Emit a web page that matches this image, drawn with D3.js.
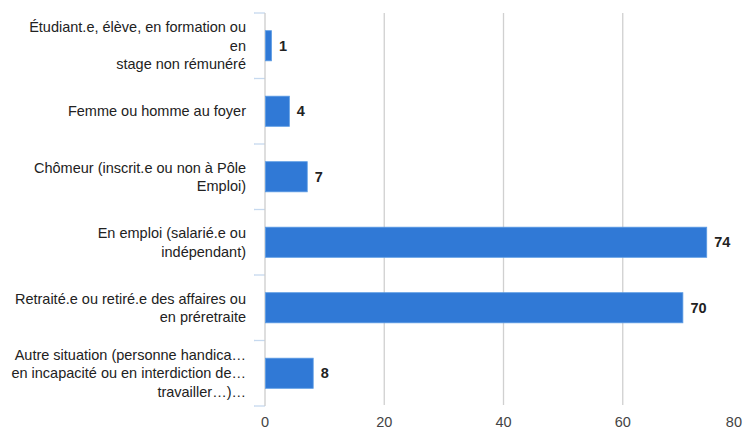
<!DOCTYPE html>
<html><head><meta charset="utf-8">
<script src="https://cdn.jsdelivr.net/npm/d3@7"></script>
<style>
html,body{margin:0;padding:0;background:#fff;}
svg{display:block;font-family:"Liberation Sans",Arial,sans-serif;}
</style></head>
<body><svg id="c" width="743" height="430"></svg>
<script>
const categories = [
  "Étudiant.e, élève, en formation ou en stage non rémunéré",
  "Femme ou homme au foyer",
  "Chômeur (inscrit.e ou non à Pôle Emploi)",
  "En emploi (salarié.e ou indépendant)",
  "Retraité.e ou retiré.e des affaires ou en préretraite",
  "Autre situation (personne handicapée, en incapacité ou en interdiction de travailler...)"
];
const labelLines = [
  ["Étudiant.e, élève, en formation ou", "en", "stage non rémunéré"],
  ["Femme ou homme au foyer"],
  ["Chômeur (inscrit.e ou non à Pôle", "Emploi)"],
  ["En emploi (salarié.e ou", "indépendant)"],
  ["Retraité.e ou retiré.e des affaires ou", "en préretraite"],
  ["Autre situation (personne handica…", "en incapacité ou en interdiction de…", "travailler…)…"]
];
const values = [1, 4, 7, 74, 70, 8];
const xTicks = [0, 20, 40, 60, 80];

const svg = d3.select("#c");
const x = d3.scaleLinear().domain([0, 80]).range([265, 742]);
const y = d3.scaleBand().domain(categories).range([13, 406]).padding(0);
const barH = y.bandwidth() * 0.46;
const fs = 14.5;

// gridlines
svg.append("g").selectAll("line").data(xTicks.filter(d => d > 0 && d < 80)).join("line")
  .attr("x1", d => x(d)).attr("x2", d => x(d))
  .attr("y1", 13).attr("y2", 405)
  .attr("stroke", "#d0d0d0").attr("stroke-width", 1.3);

// category separator ticks
const seps = categories.map(c => y(c)).concat([406]);
svg.append("g").selectAll("line").data(seps).join("line")
  .attr("x1", 254).attr("x2", 265)
  .attr("y1", d => d).attr("y2", d => d)
  .attr("stroke", "#c6d9ef").attr("stroke-width", 1.3);

// baseline
svg.append("line").attr("x1", x(0)).attr("x2", x(0)).attr("y1", 13).attr("y2", 406)
  .attr("stroke", "#cccccc").attr("stroke-width", 1.3);

// bars
svg.append("g").selectAll("rect").data(values).join("rect")
  .attr("x", x(0) + 0.5)
  .attr("y", (d, i) => y(categories[i]) + (y.bandwidth() - barH) / 2)
  .attr("width", d => x(d) - x(0))
  .attr("height", barH)
  .attr("fill", "#3079d6")
  .attr("stroke", "#5b9be3").attr("stroke-width", 0.8);

// value labels
svg.append("g").selectAll("text").data(values).join("text")
  .attr("x", d => x(d) + 8)
  .attr("y", (d, i) => y(categories[i]) + y.bandwidth() / 2)
  .attr("dy", "0.36em")
  .attr("font-size", fs).attr("font-weight", "bold").attr("fill", "#222")
  .text(d => d);

// category labels
const lh = 18.5;
const lg = svg.append("g");
labelLines.forEach((lines, i) => {
  const cy = y(categories[i]) + y.bandwidth() / 2;
  const t = lg.append("text").attr("text-anchor", "end").attr("font-size", fs).attr("fill", "#222");
  lines.forEach((ln, j) => {
    t.append("tspan").attr("x", 246)
      .attr("y", cy + (j - (lines.length - 1) / 2) * lh)
      .attr("dy", "0.36em").text(ln);
  });
});

// x tick labels
svg.append("g").selectAll("text").data(xTicks).join("text")
  .attr("x", d => d === 80 ? 742 : x(d))
  .attr("y", 427)
  .attr("text-anchor", d => d === 80 ? "end" : "middle")
  .attr("font-size", fs).attr("fill", "#444")
  .text(d => d);
</script></body></html>
